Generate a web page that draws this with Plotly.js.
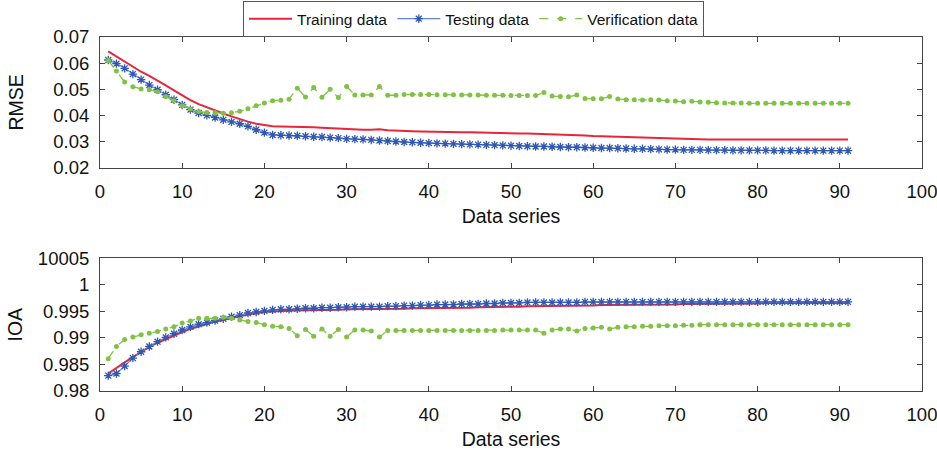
<!DOCTYPE html>
<html>
<head>
<meta charset="utf-8">
<script src="https://cdn.plot.ly/plotly-3.0.1.min.js"></script>
<style>html,body{margin:0;padding:0;background:#fff;}#chart{width:937px;height:452px;}</style>
</head>
<body>
<div id="chart"></div>
<script>
// x positions (data series index)
var series = [1,2,3,4,5,6,7,8,9,10,11,12,13,14,15,16,17,18,19,20,21,22,23,24,25,26,27,28,29,30,
  31,32,33,34,35,36,37,38,39,40,41,42,43,44,45,46,47,48,49,50,51,52,53,54,55,56,57,58,59,60,
  61,62,63,64,65,66,67,68,69,70,71,72,73,74,75,76,77,78,79,80,81,82,83,84,85,86,87,88,89,90,91];

// RMSE
var rmseTraining = [0.0645,0.0625,0.0604,0.0585,0.0567,0.0551,0.0534,0.0515,0.0496,0.0477,
  0.0458,0.0443,0.0430,0.0418,0.0407,0.0396,0.0385,0.0376,0.0368,0.0362,
  0.0358,0.0357,0.0357,0.0357,0.0356,0.0355,0.0353,0.0351,0.0350,0.0349,
  0.0345,0.0345,0.0345,0.0347,0.0343,0.0341,0.0340,0.0339,0.0338,0.0337,
  0.0337,0.0336,0.0336,0.0335,0.0335,0.0334,0.0333,0.0333,0.0332,0.0331,
  0.0331,0.0331,0.0330,0.0330,0.0328,0.0327,0.0326,0.0325,0.0323,0.0321,
  0.0320,0.0319,0.0318,0.0317,0.0316,0.0315,0.0314,0.0312,0.0311,0.0311,
  0.0310,0.0309,0.0308,0.0308,0.0308,0.0308,0.0308,0.0308,0.0308,0.0308,
  0.0308,0.0308,0.0308,0.0308,0.0308,0.0308,0.0308,0.0308,0.0308,0.0308,0.0308];
var rmseTesting = [0.0612,0.0598,0.0580,0.0558,0.0537,0.0516,0.0498,0.0479,0.0460,0.0440,
  0.0422,0.0409,0.0400,0.0392,0.0383,0.0375,0.0368,0.0358,0.0345,0.0334,
  0.0325,0.0324,0.0323,0.0322,0.0320,0.0318,0.0317,0.0315,0.0313,0.0310,
  0.0309,0.0308,0.0306,0.0304,0.0302,0.0300,0.0298,0.0297,0.0295,0.0294,
  0.0293,0.0292,0.0291,0.0290,0.0289,0.0288,0.0287,0.0286,0.0285,0.0284,
  0.0283,0.0282,0.0281,0.0281,0.0280,0.0279,0.0278,0.0278,0.0277,0.0276,
  0.0275,0.0275,0.0274,0.0273,0.0272,0.0272,0.0271,0.0270,0.0269,0.0269,
  0.0268,0.0268,0.0268,0.0267,0.0267,0.0267,0.0266,0.0266,0.0266,0.0266,
  0.0266,0.0265,0.0265,0.0265,0.0265,0.0265,0.0265,0.0265,0.0265,0.0265,0.0265];
var rmseVerification = [0.0610,0.0570,0.0528,0.0510,0.0501,0.0498,0.0490,0.0472,0.0456,0.0437,
  0.0424,0.0415,0.0411,0.0410,0.0408,0.0410,0.0416,0.0425,0.0437,0.0447,
  0.0456,0.0458,0.0462,0.0504,0.0470,0.0507,0.0469,0.0500,0.0468,0.0511,
  0.0478,0.0478,0.0478,0.0511,0.0477,0.0477,0.0480,0.0480,0.0480,0.0480,
  0.0479,0.0479,0.0479,0.0478,0.0478,0.0478,0.0477,0.0477,0.0477,0.0476,
  0.0476,0.0476,0.0476,0.0488,0.0474,0.0472,0.0471,0.0478,0.0465,0.0464,
  0.0464,0.0472,0.0463,0.0460,0.0460,0.0459,0.0460,0.0459,0.0456,0.0455,
  0.0452,0.0454,0.0451,0.0450,0.0448,0.0447,0.0447,0.0447,0.0446,0.0446,
  0.0446,0.0446,0.0446,0.0446,0.0446,0.0446,0.0446,0.0446,0.0446,0.0446,0.0446];

// IOA
var ioaTraining = [0.9833,0.9844,0.9854,0.9864,0.9874,0.9883,0.9891,0.9898,0.9905,0.9911,
  0.9917,0.9922,0.9927,0.9931,0.9934,0.9938,0.9941,0.9944,0.9947,0.9949,
  0.9950,0.9951,0.9951,0.9952,0.9952,0.9952,0.9953,0.9953,0.9953,0.9954,
  0.9954,0.9954,0.9954,0.9955,0.9955,0.9955,0.9955,0.9956,0.9956,0.9956,
  0.9956,0.9957,0.9957,0.9957,0.9957,0.9958,0.9958,0.9958,0.9959,0.9959,
  0.9959,0.9960,0.9960,0.9960,0.9960,0.9960,0.9961,0.9961,0.9961,0.9961,
  0.9962,0.9962,0.9962,0.9962,0.9962,0.9963,0.9963,0.9963,0.9963,0.9963,
  0.9964,0.9964,0.9964,0.9965,0.9965,0.9965,0.9965,0.9965,0.9965,0.9965,
  0.9966,0.9966,0.9966,0.9966,0.9966,0.9966,0.9966,0.9966,0.9966,0.9966,0.9966];
var ioaTesting = [0.9829,0.9833,0.9847,0.9862,0.9874,0.9884,0.9893,0.9901,0.9908,0.9915,
  0.9921,0.9926,0.9929,0.9933,0.9936,0.9940,0.9943,0.9947,0.9949,0.9951,
  0.9953,0.9954,0.9954,0.9955,0.9956,0.9956,0.9957,0.9957,0.9958,0.9958,
  0.9959,0.9959,0.9959,0.9959,0.9960,0.9960,0.9961,0.9961,0.9962,0.9962,
  0.9963,0.9963,0.9963,0.9964,0.9964,0.9964,0.9965,0.9965,0.9966,0.9966,
  0.9966,0.9967,0.9967,0.9967,0.9967,0.9967,0.9967,0.9967,0.9968,0.9968,
  0.9968,0.9968,0.9968,0.9968,0.9968,0.9968,0.9968,0.9968,0.9968,0.9968,
  0.9968,0.9968,0.9968,0.9968,0.9968,0.9968,0.9968,0.9968,0.9968,0.9968,
  0.9968,0.9968,0.9968,0.9968,0.9968,0.9968,0.9968,0.9968,0.9968,0.9968,0.9968];
var ioaVerification = [0.9861,0.9884,0.9897,0.9902,0.9906,0.9909,0.9912,0.9917,0.9921,0.9928,
  0.9932,0.9937,0.9937,0.9937,0.9939,0.9937,0.9934,0.9931,0.9929,0.9925,
  0.9922,0.9921,0.9918,0.9904,0.9916,0.9903,0.9917,0.9903,0.9916,0.9902,
  0.9915,0.9915,0.9913,0.9902,0.9914,0.9914,0.9914,0.9914,0.9914,0.9914,
  0.9914,0.9914,0.9914,0.9914,0.9914,0.9914,0.9914,0.9914,0.9915,0.9915,
  0.9915,0.9915,0.9915,0.9909,0.9915,0.9917,0.9917,0.9913,0.9918,0.9919,
  0.9920,0.9917,0.9920,0.9921,0.9921,0.9922,0.9922,0.9923,0.9923,0.9923,
  0.9924,0.9924,0.9925,0.9925,0.9925,0.9925,0.9925,0.9925,0.9925,0.9925,
  0.9925,0.9925,0.9925,0.9925,0.9925,0.9925,0.9925,0.9925,0.9925,0.9925,0.9925];

var names = ['Training data', 'Testing data', 'Verification data'];
var xTicks = [0,10,20,30,40,50,60,70,80,90,100];
var rmseTicks = [0.02,0.03,0.04,0.05,0.06,0.07];
var rmseTickText = ['0.02','0.03','0.04','0.05','0.06','0.07'];
var ioaTicks = [0.98,0.985,0.99,0.995,1,1.005];
var ioaTickText = ['0.98','0.985','0.99','0.995','1','10005'];

var RED = '#e8263b', BLUE_LINE = '#6486d0', BLUE_MK = '#2f58b4', GREEN = '#80c342';

function trio(yT, yTe, yV, xa, ya, showLeg) {
  return [
    {x: series, y: yT, xaxis: xa, yaxis: ya, name: names[0], mode: 'lines', showlegend: showLeg,
     line: {color: RED, width: 2}},
    {x: series, y: yTe, xaxis: xa, yaxis: ya, name: names[1], mode: 'lines+markers', showlegend: showLeg,
     line: {color: BLUE_LINE, width: 1.2},
     marker: {symbol: 'asterisk-open', size: 7, color: BLUE_MK, line: {color: BLUE_MK, width: 1.3}}},
    {x: series, y: yV, xaxis: xa, yaxis: ya, name: names[2], mode: 'lines+markers', showlegend: showLeg,
     line: {color: GREEN, width: 1.3, dash: 'dash'},
     marker: {symbol: 'circle', size: 5, color: GREEN}}
  ];
}

var data = trio(rmseTraining, rmseTesting, rmseVerification, 'x', 'y', true)
  .concat(trio(ioaTraining, ioaTesting, ioaVerification, 'x2', 'y2', false));

var FONT = 'Liberation Sans, Arial, Helvetica, sans-serif';
var axisCommon = {
  showline: true, linecolor: '#444', linewidth: 1, mirror: 'ticks',
  ticks: 'inside', ticklen: 5, tickcolor: '#444', tickwidth: 1,
  showgrid: false, zeroline: false, ticklabeloverflow: 'allow',
  tickfont: {family: FONT, size: 18.5, color: '#111'}
};
function xa(anchor) {
  return Object.assign({}, axisCommon, {
    anchor: anchor, range: [0, 100], tickvals: xTicks, ticklabelstandoff: 7,
    title: {text: 'Data series', font: {family: FONT, size: 19.5, color: '#111'}, standoff: 8}
  });
}

var layout = {
  width: 937, height: 452,
  margin: {l: 100, r: 15, t: 36.5, b: 60.5, autoexpand: false},
  paper_bgcolor: '#fff', plot_bgcolor: '#fff',
  font: {family: FONT, color: '#111'},
  showlegend: true,
  legend: {
    orientation: 'h', x: 0.174, xanchor: 'left', y: 1.1014, yanchor: 'top',
    bordercolor: '#555', borderwidth: 1, bgcolor: '#fff',
    font: {family: FONT, size: 15.5, color: '#111'},
    itemwidth: 43, tracegroupgap: 0
  },
  xaxis: xa('y'),
  xaxis2: xa('y2'),
  yaxis: Object.assign({}, axisCommon, {
    domain: [0.631, 1], range: [0.02, 0.07], tickvals: rmseTicks, ticktext: rmseTickText,
    ticklabelstandoff: 6,
    title: {text: 'RMSE', font: {family: FONT, size: 19.5, color: '#111'}, standoff: 24}
  }),
  yaxis2: Object.assign({}, axisCommon, {
    domain: [0, 0.3746], range: [0.98, 1.005], tickvals: ioaTicks, ticktext: ioaTickText,
    ticklabelstandoff: 6,
    title: {text: 'IOA', font: {family: FONT, size: 19.5, color: '#111'}, standoff: 10}
  })
};

Plotly.newPlot('chart', data, layout, {displayModeBar: false, staticPlot: true});
</script>
</body>
</html>
